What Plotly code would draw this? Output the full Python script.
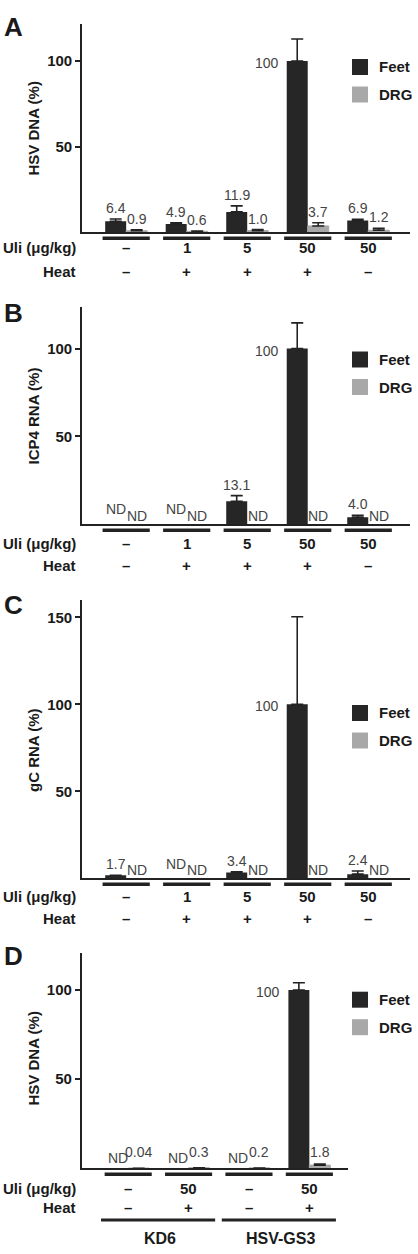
import plotly.graph_objects as go

W, H = 418, 1254
FONT = "Liberation Sans, Arial, sans-serif"
FEET_C = "#262626"
DRG_C = "#a8a8a8"
AX_C = "#222222"
LBL_C = "#444444"
TXT_C = "#1a1a1a"

# ---------------- data ----------------
series_names = ["Feet", "DRG"]

# Panel A: HSV DNA
a_uli = ["–", "1", "5", "50", "50"]
a_heat = ["–", "+", "+", "+", "–"]
a_feet = [6.4, 4.9, 11.9, 100, 6.9]
a_feet_err = [1.4, 0.7, 3.5, 12.8, 0.7]
a_drg = [0.9, 0.6, 1.0, 3.7, 1.2]
a_drg_err = [0.5, 0.1, 0.6, 1.9, 1.1]
a_feet_lbl = ["6.4", "4.9", "11.9", "100", "6.9"]
a_drg_lbl = ["0.9", "0.6", "1.0", "3.7", "1.2"]

# Panel B: ICP4 RNA (None = not detected)
b_uli = ["–", "1", "5", "50", "50"]
b_heat = ["–", "+", "+", "+", "–"]
b_feet = [None, None, 13.1, 100, 4.0]
b_feet_err = [0, 0, 3.2, 14.6, 1.1]
b_drg = [None, None, None, None, None]
b_drg_err = [0, 0, 0, 0, 0]
b_feet_lbl = ["ND", "ND", "13.1", "100", "4.0"]
b_drg_lbl = ["ND", "ND", "ND", "ND", "ND"]

# Panel C: gC RNA
c_uli = ["–", "1", "5", "50", "50"]
c_heat = ["–", "+", "+", "+", "–"]
c_feet = [1.7, None, 3.4, 100, 2.4]
c_feet_err = [0, 0, 0.4, 50.4, 1.8]
c_drg = [None, None, None, None, None]
c_drg_err = [0, 0, 0, 0, 0]
c_feet_lbl = ["1.7", "ND", "3.4", "100", "2.4"]
c_drg_lbl = ["ND", "ND", "ND", "ND", "ND"]

# Panel D: HSV DNA, two strains
d_uli = ["–", "50", "–", "50"]
d_heat = ["–", "+", "–", "+"]
d_strains = ["KD6", "HSV-GS3"]
d_strain_groups = [[0, 1], [2, 3]]
d_feet = [None, None, None, 100]
d_feet_err = [0, 0, 0, 4.1]
d_drg = [0.04, 0.3, 0.2, 1.8]
d_drg_err = [0, 0, 0, 0.6]
d_feet_lbl = ["ND", "ND", "ND", "100"]
d_drg_lbl = ["0.04", "0.3", "0.2", "1.8"]

# ---------------- layout geometry (pixels) ----------------
panels = [
    dict(letter="A", title="HSV DNA (%)", uli=a_uli, heat=a_heat,
         feet=a_feet, feet_err=a_feet_err, drg=a_drg, drg_err=a_drg_err,
         feet_lbl=a_feet_lbl, drg_lbl=a_drg_lbl,
         x0=82, x1=410, top=24, bot=232.3, yr=[0, 121.6], xr=[-0.73, 4.69],
         tickvals=[50, 100], letter_y=27.5, title_y=128.5,
         uli_y=248, heat_y=272, leg_y=59, low_drg=None, nd_feet=15),
    dict(letter="B", title="ICP4 RNA (%)", uli=b_uli, heat=b_heat,
         feet=b_feet, feet_err=b_feet_err, drg=b_drg, drg_err=b_drg_err,
         feet_lbl=b_feet_lbl, drg_lbl=b_drg_lbl,
         x0=82, x1=410, top=306.7, bot=524.3, yr=[0, 123.8], xr=[-0.73, 4.69],
         tickvals=[50, 100], letter_y=312.5, title_y=416.5,
         uli_y=543.3, heat_y=566, leg_y=351.5, low_drg=None, nd_feet=15),
    dict(letter="C", title="gC RNA (%)", uli=c_uli, heat=c_heat,
         feet=c_feet, feet_err=c_feet_err, drg=c_drg, drg_err=c_drg_err,
         feet_lbl=c_feet_lbl, drg_lbl=c_drg_lbl,
         x0=82, x1=410, top=600, bot=878.3, yr=[0, 160], xr=[-0.73, 4.69],
         tickvals=[50, 100, 150], letter_y=605, title_y=750,
         uli_y=896, heat_y=918.3, leg_y=705, low_drg=None, nd_feet=14),
    dict(letter="D", title="HSV DNA (%)", uli=d_uli, heat=d_heat,
         feet=d_feet, feet_err=d_feet_err, drg=d_drg, drg_err=d_drg_err,
         feet_lbl=d_feet_lbl, drg_lbl=d_drg_lbl,
         x0=81.7, x1=348.3, top=953, bot=1168.3, yr=[0, 120.8], xr=[-0.77, 3.645],
         tickvals=[50, 100], letter_y=956, title_y=1058.5,
         uli_y=1188.3, heat_y=1207.3, leg_y=991.7, low_drg=16.5, nd_feet=10),
]


def py(p):
    return 1 - p / H


def px(p):
    return p / W


BARGAP = 0.306
HALF = (1 - BARGAP) / 4  # offset of each bar centre from group centre

fig = go.Figure()
annotations = []
shapes = []

for k, P in enumerate(panels, start=1):
    xa = "x" if k == 1 else f"x{k}"
    ya = "y" if k == 1 else f"y{k}"
    n = len(P["uli"])
    xs = list(range(n))

    fig.add_trace(go.Bar(
        x=xs, y=P["feet"], name="Feet", xaxis=xa, yaxis=ya,
        marker=dict(color=FEET_C, line=dict(width=0)), showlegend=False,
        error_y=dict(type="data", symmetric=False, array=P["feet_err"],
                     arrayminus=[0] * n, width=6, thickness=1.6, color=AX_C),
    ))
    fig.add_trace(go.Bar(
        x=xs, y=P["drg"], name="DRG", xaxis=xa, yaxis=ya,
        marker=dict(color=DRG_C, line=dict(width=1, color=DRG_C)), showlegend=False,
        error_y=dict(type="data", symmetric=False, array=P["drg_err"],
                     arrayminus=[0] * n, width=6, thickness=1.6, color=AX_C),
    ))

    ax_key = "xaxis" if k == 1 else f"xaxis{k}"
    ay_key = "yaxis" if k == 1 else f"yaxis{k}"
    fig.update_layout(**{
        ax_key: dict(domain=[px(P["x0"]), px(P["x1"])], range=P["xr"], anchor=ya,
                     showline=True, linecolor=AX_C, linewidth=1.6, ticks="",
                     showticklabels=False, showgrid=False, zeroline=False,
                     fixedrange=True),
        ay_key: dict(domain=[py(P["bot"]), py(P["top"])], range=P["yr"], anchor=xa,
                     showline=True, linecolor=AX_C, linewidth=1.6, ticks="outside",
                     ticklen=5, tickwidth=1.6, tickcolor=AX_C, tickvals=P["tickvals"],
                     tickfont=dict(family=FONT, size=15, color=TXT_C, weight="bold"),
                     showgrid=False, zeroline=False, fixedrange=True),
    })

    # value labels
    for i in range(n):
        for s, (vals, errs, lbls, off) in enumerate([
            (P["feet"], P["feet_err"], P["feet_lbl"], -HALF),
            (P["drg"], P["drg_err"], P["drg_lbl"], HALF),
        ]):
            lbl = lbls[i]
            v = vals[i]
            if lbl == "100":
                annotations.append(dict(
                    x=i - 2 * HALF, y=v, xref=xa, yref=ya, text=lbl,
                    xanchor="right", yanchor="middle", xshift=-6, yshift=-2,
                    showarrow=False, font=dict(family=FONT, size=14, color=LBL_C)))
                continue
            if lbl == "ND":
                shift = P["nd_feet"] if s == 0 else 8.5
                yv = 0
            elif s == 1 and P["low_drg"] is not None:
                shift = P["low_drg"]
                yv = 0
            else:
                shift = 11
                yv = (v or 0) + errs[i]
            annotations.append(dict(
                x=i + off, y=yv, xref=xa, yref=ya, text=lbl,
                xanchor="center", yanchor="middle", yshift=shift,
                showarrow=False, font=dict(family=FONT, size=14, color=LBL_C)))

    # group underlines
    for i in range(n):
        shapes.append(dict(type="line", xref=xa, yref="paper",
                           x0=i - 0.39, x1=i + 0.39,
                           y0=py(P["bot"] + 6), y1=py(P["bot"] + 6),
                           line=dict(color=AX_C, width=3.5)))

    # row labels
    for txt, yy in [("Uli (μg/kg)", P["uli_y"]), ("Heat", P["heat_y"])]:
        annotations.append(dict(x=px(78), y=py(yy), xref="paper", yref="paper",
                                text=f"<b>{txt}</b>", xanchor="right", yanchor="middle",
                                showarrow=False, font=dict(family=FONT, size=15, color=TXT_C)))
    for vals, yy in [(P["uli"], P["uli_y"]), (P["heat"], P["heat_y"])]:
        for i, t in enumerate(vals):
            annotations.append(dict(x=i, y=py(yy), xref=xa, yref="paper",
                                    text=f"<b>{t}</b>", xanchor="center", yanchor="middle",
                                    showarrow=False, font=dict(family=FONT, size=15, color=TXT_C)))

    # panel letter
    annotations.append(dict(x=px(13.5), y=py(P["letter_y"]), xref="paper", yref="paper",
                            text=f"<b>{P['letter']}</b>", xanchor="center", yanchor="middle",
                            showarrow=False, font=dict(family=FONT, size=26, color=TXT_C)))
    # y-axis title
    annotations.append(dict(x=px(33), y=py(P["title_y"]), xref="paper", yref="paper",
                            text=f"<b>{P['title']}</b>", textangle=-90,
                            xanchor="center", yanchor="middle", showarrow=False,
                            font=dict(family=FONT, size=15, color=TXT_C)))

    # legend
    for j, (nm, col) in enumerate(zip(series_names, [FEET_C, DRG_C])):
        t0 = P["leg_y"] + j * 27.5
        shapes.append(dict(type="rect", xref="paper", yref="paper",
                           x0=px(352), x1=px(368), y0=py(t0 + 16), y1=py(t0),
                           fillcolor=col, line=dict(width=0)))
        annotations.append(dict(x=px(377), y=py(t0 + 8), xref="paper", yref="paper",
                                text=f"<b>{nm}</b>", xanchor="left", yanchor="middle",
                                showarrow=False, font=dict(family=FONT, size=15, color=TXT_C)))

# strain brackets for panel D
PD = panels[3]
for name, grp in zip(d_strains, d_strain_groups):
    shapes.append(dict(type="line", xref="x4", yref="paper",
                       x0=grp[0] - 0.45, x1=grp[-1] + 0.44,
                       y0=py(1220), y1=py(1220), line=dict(color=AX_C, width=3)))
    annotations.append(dict(x=(grp[0] + grp[-1]) / 2 + 0.03, y=py(1238), xref="x4", yref="paper",
                            text=f"<b>{name}</b>", xanchor="center", yanchor="middle",
                            showarrow=False, font=dict(family=FONT, size=16, color=TXT_C)))

fig.update_layout(
    width=W, height=H, autosize=False,
    margin=dict(l=0, r=0, t=0, b=0),
    paper_bgcolor="white", plot_bgcolor="white",
    barmode="group", bargap=BARGAP, bargroupgap=0,
    annotations=annotations, shapes=shapes,
    showlegend=False,
    font=dict(family=FONT),
)

fig.write_html("out.html")
